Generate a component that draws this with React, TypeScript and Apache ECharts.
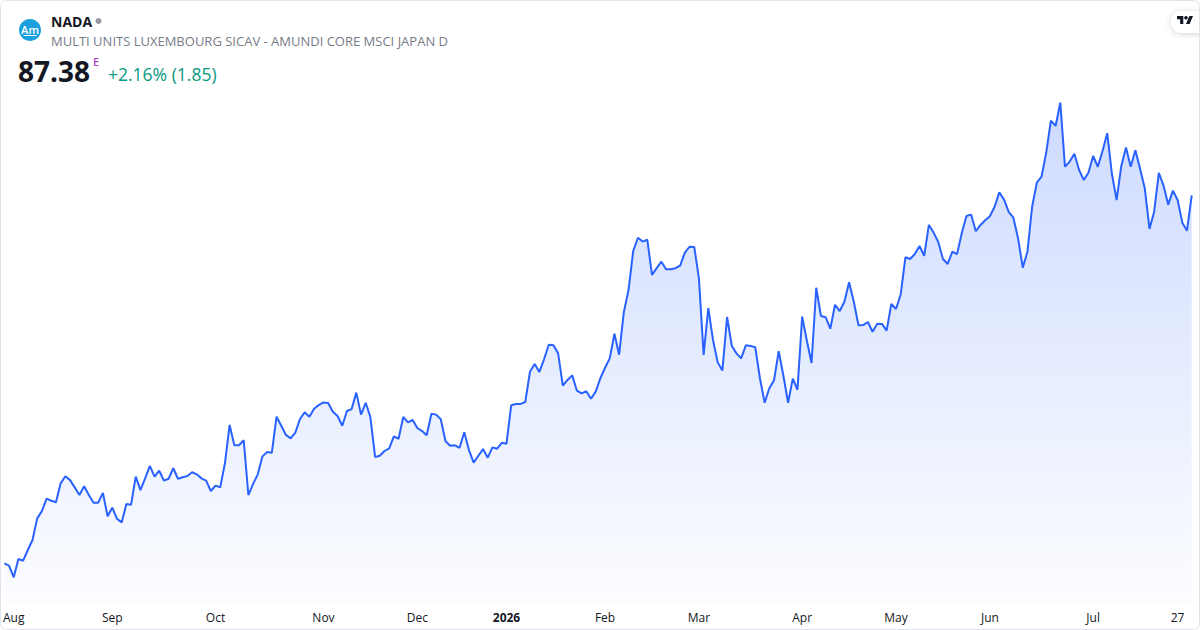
import React, { useEffect, useRef } from "react";
import * as echarts from "echarts";

// ---- data ----
const START_DATE = "2025-07-30";
const END_DATE = "2026-07-30";
const HOLIDAYS = ["2025-12-24", "2025-12-25", "2025-12-26", "2025-12-31", "2026-01-01", "2026-04-03", "2026-04-06", "2026-05-01"];

const PRICES = [
  68.15, 68.03, 67.42, 68.38, 68.29, 68.85, 69.37, 70.50, 70.88, 71.53,
  71.42, 71.34, 72.33, 72.70, 72.50, 72.12, 71.72, 72.18, 71.72, 71.32,
  71.32, 71.83, 70.61, 71.06, 70.48, 70.29, 71.25, 71.21, 72.68, 71.98,
  72.59, 73.24, 72.68, 72.99, 72.47, 72.57, 73.12, 72.57, 72.65, 72.71,
  72.91, 72.80, 72.59, 72.47, 71.93, 72.21, 72.12, 73.38, 75.38, 74.32,
  74.32, 74.58, 71.72, 72.30, 72.80, 73.74, 73.97, 73.93, 75.81, 75.34,
  74.86, 74.68, 74.98, 75.69, 76.04, 75.81, 76.23, 76.42, 76.56, 76.53,
  76.07, 75.85, 75.34, 76.11, 76.21, 77.07, 75.92, 76.54, 75.78, 73.71,
  73.77, 74.02, 74.16, 74.79, 74.66, 75.80, 75.52, 75.64, 75.22, 75.06,
  74.84, 75.97, 75.92, 75.68, 74.53, 74.30, 74.32, 74.19, 75.00, 74.07,
  73.41, 73.77, 74.12, 73.67, 74.21, 74.14, 74.45, 74.40, 76.41, 76.48,
  76.48, 76.58, 78.16, 78.57, 78.15, 78.81, 79.57, 79.54, 79.12, 77.43,
  77.73, 77.97, 77.17, 77.03, 77.14, 76.75, 77.12, 77.82, 78.37, 78.86,
  80.15, 79.05, 81.27, 82.43, 84.47, 85.16, 84.96, 85.06, 83.22, 83.57,
  83.91, 83.51, 83.51, 83.57, 83.70, 84.38, 84.69, 84.68, 83.04, 79.04,
  81.48, 79.82, 78.65, 78.22, 81.02, 79.52, 79.12, 78.86, 79.54, 79.51,
  79.44, 77.82, 76.54, 77.30, 77.71, 79.24, 77.95, 76.54, 77.80, 77.22,
  81.04, 79.78, 78.62, 82.55, 81.07, 81.01, 80.41, 81.66, 81.33, 81.82,
  82.83, 81.82, 80.59, 80.60, 80.76, 80.25, 80.67, 80.66, 80.31, 81.70,
  81.44, 82.21, 84.14, 84.05, 84.31, 84.73, 84.22, 85.83, 85.43, 84.94,
  84.05, 83.79, 84.43, 84.31, 85.39, 86.30, 86.37, 85.50, 85.83, 86.07,
  86.28, 86.78, 87.53, 87.16, 86.51, 86.21, 85.13, 83.60, 84.43, 86.78,
  88.04, 88.35, 89.61, 91.28, 91.00, 92.22, 88.87, 89.14, 89.55, 88.70,
  88.18, 88.56, 89.43, 88.87, 89.69, 90.62, 88.49, 87.13, 88.91, 89.87,
  88.87, 89.73, 88.77, 87.75, 85.62, 86.52, 88.55, 87.88, 86.89, 87.62,
  87.13, 85.95, 85.53, 87.38,
];

const TICK_LABELS: [string, string][] = [
  ["2025-08-01", "Aug"], ["2025-09-01", "Sep"], ["2025-10-01", "Oct"], ["2025-11-03", "Nov"],
  ["2025-12-01", "Dec"], ["2026-01-02", "2026"], ["2026-02-02", "Feb"], ["2026-03-02", "Mar"],
  ["2026-04-01", "Apr"], ["2026-05-04", "May"], ["2026-06-01", "Jun"], ["2026-07-01", "Jul"],
  ["2026-07-27", "27"],
];
const BOLD_LABELS = ["2026"];

const SYMBOL = "NADA";
const SUBTITLE = "MULTI UNITS LUXEMBOURG SICAV - AMUNDI CORE MSCI JAPAN D";
const LAST_PRICE = "87.38";
const CHANGE_TEXT = "+2.16% (1.85)";

function tradingDays(start: string, end: string, holidays: string[]): string[] {
  const out: string[] = [];
  const d = new Date(start + "T00:00:00Z");
  const e = new Date(end + "T00:00:00Z");
  while (d.getTime() <= e.getTime()) {
    const wd = d.getUTCDay();
    const s = d.toISOString().slice(0, 10);
    if (wd !== 0 && wd !== 6 && holidays.indexOf(s) < 0) out.push(s);
    d.setUTCDate(d.getUTCDate() + 1);
  }
  return out;
}

const FONT = '"Open Sans", "Noto Sans", sans-serif';

export default function App() {
  const ref = useRef<HTMLDivElement>(null);
  useEffect(() => {
    if (!ref.current) return;
    echarts.graphic.registerShape(
      "tvlogo",
      echarts.graphic.extendPath("M14 22H7V11H0V4h14v18zM28 22h-8l7.5-18h8L28 22z", {}) as any
    );
    const chart = echarts.init(ref.current, null, { renderer: "svg" });
    const dates = tradingDays(START_DATE, END_DATE, HOLIDAYS).slice(0, PRICES.length);
    const tickMap = new Map<string, string>(TICK_LABELS);

    chart.setOption({
      animation: false,
      backgroundColor: "#ffffff",
      grid: { left: 2.7, right: 8.3, top: 0, bottom: 27, containLabel: false },
      xAxis: {
        type: "category",
        data: dates,
        boundaryGap: false,
        axisLine: { show: false },
        axisTick: { show: false },
        splitLine: { show: false },
        axisLabel: {
          interval: (_i: number, v: string) => tickMap.has(v),
          formatter: (v: string) => {
            const l = tickMap.get(v) || "";
            return BOLD_LABELS.indexOf(l) >= 0 ? `{b|${l}}` : l;
          },
          color: "#131722",
          fontSize: 12,
          fontFamily: FONT,
          margin: 8,
          hideOverlap: false,
          rich: { b: { fontWeight: "bold", fontSize: 12, color: "#131722", fontFamily: FONT } },
        },
      },
      yAxis: {
        type: "value",
        min: 66.08,
        max: 97.58,
        show: false,
        splitLine: { show: false },
      },
      series: [
        {
          type: "line",
          data: PRICES,
          showSymbol: false,
          symbol: "none",
          lineStyle: { color: "#2962FF", width: 2 },
          itemStyle: { color: "#2962FF" },
          areaStyle: {
            origin: "start",
            color: new echarts.graphic.LinearGradient(0, 0, 0, 1, [
              { offset: 0, color: "rgba(41,98,255,0.33)" },
              { offset: 1, color: "rgba(41,98,255,0.02)" },
            ]),
          },
        },
      ],
      graphic: [
        { type: "circle", shape: { cx: 30, cy: 30, r: 11 }, style: { fill: "#1aa0dc" } },
        { type: "text", x: 30, y: 29, style: { text: "Am", fill: "#ffffff", font: `600 11px ${FONT}`, align: "center", verticalAlign: "middle" } },
        { type: "line", shape: { x1: 23.5, y1: 35.5, x2: 36.5, y2: 35.5 }, style: { stroke: "#ffffff", lineWidth: 1 } },
        { type: "text", x: 51, y: 21, style: { text: SYMBOL, fill: "#131722", font: `bold 14px ${FONT}`, verticalAlign: "middle" } },
        { type: "circle", shape: { cx: 98.5, cy: 21, r: 3 }, style: { fill: "#9598a1" } },
        { type: "text", x: 51, y: 41, style: { text: SUBTITLE, fill: "#787b86", font: `13px ${FONT}`, verticalAlign: "middle" } },
        { type: "text", x: 18, y: 71, style: { text: LAST_PRICE, fill: "#131722", font: `bold 28px ${FONT}`, verticalAlign: "middle" } },
        { type: "text", x: 93, y: 61, style: { text: "E", fill: "#ab47bc", font: `600 11px ${FONT}`, verticalAlign: "middle" } },
        { type: "text", x: 108, y: 74, style: { text: CHANGE_TEXT, fill: "#089981", font: `17.5px ${FONT}`, verticalAlign: "middle" } },
        {
          type: "rect",
          shape: { x: 1171, y: 11, width: 40, height: 22, r: 11 },
          style: { fill: "#ffffff", shadowBlur: 6, shadowColor: "rgba(0,0,0,0.18)", shadowOffsetY: 1 },
        },
        { type: "tvlogo", x: 1177, y: 14.2, scaleX: 0.45, scaleY: 0.45, style: { fill: "#131722" } },
        { type: "circle", shape: { cx: 1186, cy: 17.8, r: 1.8 }, style: { fill: "#131722" } },
        {
          type: "rect",
          shape: { x: 0.5, y: 0.5, width: 1199, height: 629, r: 6 },
          style: { fill: "none", stroke: "#e0e3eb", lineWidth: 1 },
          z: 100,
          silent: true,
        },
      ],
    });
    return () => chart.dispose();
  }, []);
  return (
    <div
      ref={ref}
      style={{ position: "fixed", left: 0, top: 0, width: 1200, height: 630 }}
    />
  );
}
